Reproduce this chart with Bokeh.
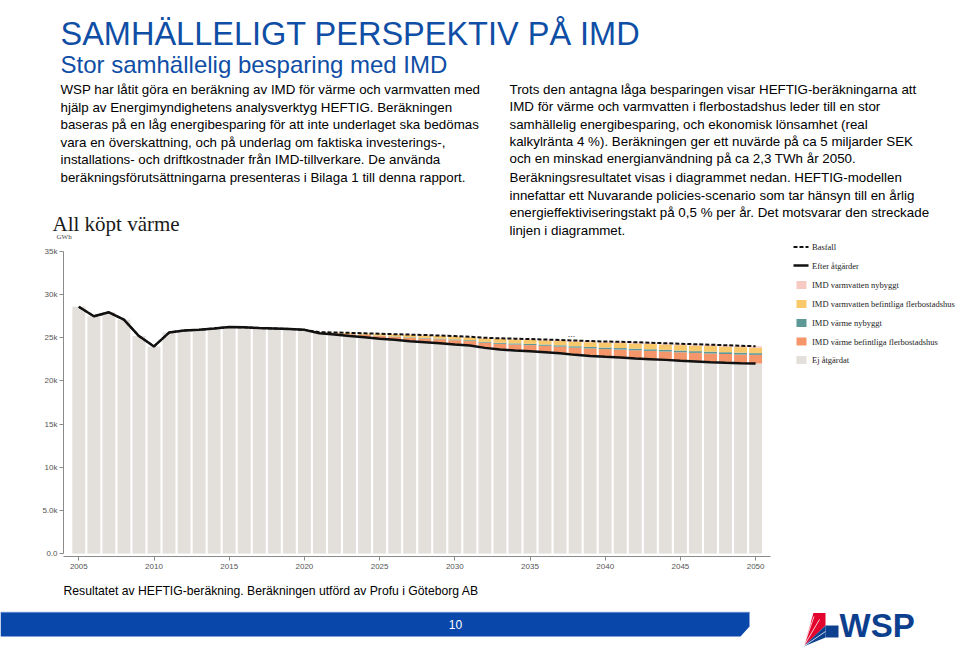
from bokeh.plotting import figure
from bokeh.models import Range1d, LinearAxis, Label, FixedTicker, ColumnDataSource
from bokeh.embed import file_html
from bokeh.resources import INLINE

# ---------------- data ----------------
years = list(range(2005, 2051))

efter_atgarder = [28600, 27500, 27950, 27100, 25200, 24000, 25600, 25850, 25920, 26080,
                  26250, 26220, 26120, 26080, 26020, 25920, 25530, 25380, 25220, 25070,
                  24880, 24760, 24600, 24490, 24370, 24220, 24100, 23830, 23640, 23520,
                  23440, 23330, 23210, 23020, 22900, 22790, 22710, 22600, 22520, 22440,
                  22330, 22250, 22170, 22100, 22050, 22020]
ej_atgardat = list(efter_atgarder)

Z16 = [0] * 16
imd_varme_befintliga = Z16 + [80, 140, 200, 250, 320, 350, 400, 430, 460, 500,
                              520, 600, 660, 700, 710, 740, 770, 840, 870, 900,
                              920, 950, 960, 970, 990, 1000, 1010, 1020, 1010, 1000]
imd_varme_nybyggt = Z16 + [0, 0, 20, 30, 40, 50, 60, 70, 80, 90,
                           100, 110, 120, 130, 140, 150, 150, 160, 170, 180,
                           180, 190, 190, 200, 200, 200, 210, 210, 210, 200]
imd_vv_befintliga = Z16 + [40, 80, 120, 150, 200, 220, 260, 280, 300, 330,
                           340, 390, 440, 460, 470, 480, 500, 540, 550, 570,
                           580, 600, 610, 610, 630, 640, 650, 650, 650, 640]
imd_vv_nybyggt = Z16 + [0, 20, 10, 20, 30, 40, 50, 50, 50, 60,
                        60, 70, 80, 90, 90, 100, 110, 120, 130, 130,
                        140, 150, 150, 150, 160, 160, 160, 160, 160, 160]
basfall = efter_atgarder[:16] + [25650, 25620, 25570, 25520, 25470, 25420, 25370, 25320, 25260, 25200,
                                 25120, 25000, 24940, 24900, 24850, 24800, 24740, 24680, 24620, 24570,
                                 24530, 24490, 24430, 24370, 24310, 24250, 24200, 24140, 24080, 24020]

y_ticks = [0, 5000, 10000, 15000, 20000, 25000, 30000, 35000]
y_tick_labels = ["0.0", "5.0k", "10k", "15k", "20k", "25k", "30k", "35k"]
x_ticks = [2005, 2010, 2015, 2020, 2025, 2030, 2035, 2040, 2045, 2050]

legend_labels = ["Basfall", "Efter åtgärder", "IMD varmvatten nybyggt",
                 "IMD varmvatten befintliga flerbostadshus", "IMD värme nybyggt",
                 "IMD värme befintliga flerbostadshus", "Ej åtgärdat"]

title = "SAMHÄLLELIGT PERSPEKTIV PÅ IMD"
subtitle = "Stor samhällelig besparing med IMD"
left_text = ["WSP har låtit göra en beräkning av IMD för värme och varmvatten med",
             "hjälp av Energimyndighetens analysverktyg HEFTIG. Beräkningen",
             "baseras på en låg energibesparing för att inte underlaget ska bedömas",
             "vara en överskattning, och på underlag om faktiska investerings-,",
             "installations- och driftkostnader från IMD-tillverkare. De använda",
             "beräkningsförutsättningarna presenteras i Bilaga 1 till denna rapport."]
right_text_1 = ["Trots den antagna låga besparingen visar HEFTIG-beräkningarna att",
                "IMD för värme och varmvatten i flerbostadshus leder till en stor",
                "samhällelig energibesparing, och ekonomisk lönsamhet (real",
                "kalkylränta 4 %). Beräkningen ger ett nuvärde på ca 5 miljarder SEK",
                "och en minskad energianvändning på ca 2,3 TWh år 2050."]
right_text_2 = ["Beräkningsresultatet visas i diagrammet nedan. HEFTIG-modellen",
                "innefattar ett Nuvarande policies-scenario som tar hänsyn till en årlig",
                "energieffektiviseringstakt på 0,5 % per år. Det motsvarar den streckade",
                "linjen i diagrammet."]
chart_title = "All köpt värme"
footer = "Resultatet av HEFTIG-beräkning. Beräkningen utförd av Profu i Göteborg AB"
page_no = "10"

# ---------------- styles / layout ----------------
BLUE = "#0f4ea5"
BAR_BLUE = "#0a47aa"
C_EJ = "#e3dfdb"
C_VB = "#f5966a"
C_VN = "#5e9896"
C_WB = "#f8c86a"
C_WN = "#f6c9c3"

# slide coordinates = page pixels
W, H = 960, 651
X_2005, PX_YEAR = 78.3, 15.04       # x pixel of 2005 bar centre, px per year
Y_ZERO, PX_UNIT = 553.0, 302.0 / 35000.0

p = figure(width=W, height=H, x_range=Range1d(0, W), y_range=Range1d(H, 0),
           output_backend="svg", toolbar_location=None, min_border=0,
           x_axis_type=None, y_axis_type=None, outline_line_color=None,
           background_fill_color="white", border_fill_color="white")

p.extra_x_ranges = {"cx": Range1d(2005 + (0 - X_2005) / PX_YEAR, 2005 + (W - X_2005) / PX_YEAR)}
p.extra_y_ranges = {"cy": Range1d((Y_ZERO - H) / PX_UNIT, Y_ZERO / PX_UNIT)}

src = ColumnDataSource(dict(year=years, ej=ej_atgardat, vb=imd_varme_befintliga,
                            vn=imd_varme_nybyggt, wb=imd_vv_befintliga, wn=imd_vv_nybyggt,
                            bas=basfall, efter=efter_atgarder))

p.vbar_stack(["ej", "vb", "vn", "wb", "wn"], x="year", width=0.86, source=src,
             fill_color=[C_EJ, C_VB, C_VN, C_WB, C_WN], line_color=None,
             x_range_name="cx", y_range_name="cy")
p.line(x="year", y="bas", source=src, line_color="#111111", line_width=2,
       line_dash="4 2", x_range_name="cx", y_range_name="cy")
p.line(x="year", y="efter", source=src, line_color="#111111", line_width=2.5,
       x_range_name="cx", y_range_name="cy")

axis_style = dict(axis_line_color="#8a8a8a", major_tick_line_color="#8a8a8a",
                  minor_tick_line_color=None, major_tick_in=0, major_tick_out=4,
                  major_label_text_font="Liberation Sans", major_label_text_font_size="8px",
                  major_label_text_color="#555555")
yax = LinearAxis(x_range_name="cx", y_range_name="cy",
                 fixed_location=2005 + (63 - X_2005) / PX_YEAR, bounds=(0, 35000),
                 ticker=FixedTicker(ticks=y_ticks),
                 major_label_overrides={t: l for t, l in zip(y_ticks, y_tick_labels)},
                 major_label_standoff=2, **axis_style)
p.add_layout(yax, "left")
xax = LinearAxis(x_range_name="cx", y_range_name="cy",
                 fixed_location=(Y_ZERO - 556) / PX_UNIT,
                 bounds=(x_ticks[0] - 1, x_ticks[-1] + 1),
                 ticker=FixedTicker(ticks=x_ticks),
                 major_label_overrides={t: str(t) for t in x_ticks},
                 major_label_standoff=3, **axis_style)
p.add_layout(xax, "below")

def lab(x, y, text, size, color="#000000", font="Liberation Sans", style="normal",
        align="left", baseline="middle"):
    p.add_layout(Label(x=x, y=y, text=text, text_font=font, text_font_size=size,
                       text_color=color, text_font_style=style, text_align=align,
                       text_baseline=baseline))

# titles
lab(60, 33.5, title, "32.5px", BLUE, baseline="alphabetic")
lab(60, 63.5, subtitle, "24px", BLUE, baseline="alphabetic")

# body texts
for i, t in enumerate(left_text):
    lab(60, 89 + i * 17.6, t, "13.35px")
for i, t in enumerate(right_text_1):
    lab(509, 89 + i * 17.3, t, "13.35px")
for i, t in enumerate(right_text_2):
    lab(509, 177 + i * 17.7, t, "13.35px")

# chart texts
lab(52, 223, chart_title, "21px", "#1a1a1a", font="Liberation Serif", baseline="alphabetic")
lab(56, 236, "GWh", "7px", "#444444", font="Liberation Serif")
lab(571, 333, "...", "9px", "#333333", align="center")

# legend
leg_y = [246.5, 265, 284.5, 303.5, 322.5, 341, 359.5]
p.line([793, 808], [leg_y[0], leg_y[0]], line_color="#111111", line_width=2, line_dash="4 2")
p.line([793, 808], [leg_y[1], leg_y[1]], line_color="#111111", line_width=2.5)
p.rect(x=[801] * 5, y=leg_y[2:], width=10, height=8,
       fill_color=[C_WN, C_WB, C_VN, C_VB, C_EJ], line_color=None)
for yy, t in zip(leg_y, legend_labels):
    lab(811.5, yy, t, "8.5px", "#222222", font="Liberation Serif")

# footer
lab(63, 590, footer, "12.2px")
p.patch([0, 749, 749, 740, 0], [611.5, 611.5, 626, 636, 636], fill_color=BAR_BLUE, line_color=None)
p.line([0, 749], [611.8, 611.8], line_color="#6f95d3", line_width=1)
lab(455, 624, page_no, "12px", "#ffffff", align="center")

# WSP logo
p.patch([803, 813, 825], [646, 612.5, 625], fill_color="#e3052d", line_color=None)
p.patch([813, 825, 825, 813], [612.5, 612.5, 625, 625], fill_color="#e3052d", line_color=None)
p.patch([803, 825, 825], [646, 625, 637], fill_color="#0d3f8f", line_color=None)
p.patch([825, 838, 838, 825], [625, 625, 637, 637], fill_color="#0d3f8f", line_color=None)
p.segment(x0=[803] * 4, y0=[646] * 4, x1=[810, 813.5, 819, 825], y1=[622, 616, 619, 631],
          line_color="white", line_width=0.8)
lab(839, 625, "WSP", "33px", "#0d3f8f", style="bold", baseline="middle")

open("out.html", "w").write(file_html(p, INLINE))
